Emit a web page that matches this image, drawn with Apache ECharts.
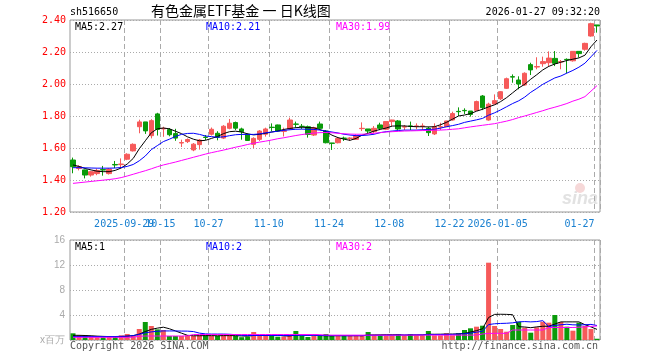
<!DOCTYPE html>
<html><head><meta charset="utf-8">
<script src="https://cdn.jsdelivr.net/npm/echarts@6/dist/echarts.min.js"></script>
<style>html,body{margin:0;padding:0;background:#fff}#c{width:660px;height:360px}</style>
</head><body><div id="c"></div>
<script>
const dates = ['2025-09-16','2025-09-17','2025-09-18','2025-09-19','2025-09-22','2025-09-23','2025-09-24','2025-09-25','2025-09-26','2025-09-29','2025-09-30',
'2025-10-09','2025-10-10','2025-10-13','2025-10-14','2025-10-15','2025-10-16','2025-10-17','2025-10-20','2025-10-21','2025-10-22','2025-10-23','2025-10-24','2025-10-27','2025-10-28','2025-10-29','2025-10-30','2025-10-31',
'2025-11-03','2025-11-04','2025-11-05','2025-11-06','2025-11-07','2025-11-10','2025-11-11','2025-11-12','2025-11-13','2025-11-14','2025-11-17','2025-11-18','2025-11-19','2025-11-20','2025-11-21','2025-11-24','2025-11-25','2025-11-26','2025-11-27','2025-11-28',
'2025-12-01','2025-12-02','2025-12-03','2025-12-04','2025-12-05','2025-12-08','2025-12-09','2025-12-10','2025-12-11','2025-12-12','2025-12-15','2025-12-16','2025-12-17','2025-12-18','2025-12-19','2025-12-22','2025-12-23','2025-12-24','2025-12-25','2025-12-26','2025-12-29','2025-12-30','2025-12-31',
'2026-01-05','2026-01-06','2026-01-07','2026-01-08','2026-01-09','2026-01-12','2026-01-13','2026-01-14','2026-01-15','2026-01-16','2026-01-19','2026-01-20','2026-01-21','2026-01-22','2026-01-23','2026-01-26','2026-01-27'];

const opens = [1.525,1.472,1.463,1.431,1.440,1.465,1.440,1.497,1.496,1.530,1.582,1.733,1.763,1.677,1.813,1.719,1.715,1.690,1.631,1.640,1.588,1.621,1.668,1.686,1.692,1.662,1.723,1.759,
1.719,1.686,1.623,1.654,1.686,1.730,1.744,1.704,1.719,1.750,1.736,1.733,1.681,1.750,1.706,1.631,1.633,1.662,1.660,1.654,
1.721,1.719,1.702,1.744,1.717,1.765,1.769,1.731,1.738,1.735,1.735,1.723,1.688,1.731,1.733,1.775,1.829,1.835,1.831,1.835,1.925,1.775,1.875,
1.908,1.973,2.046,2.025,1.994,2.121,2.106,2.127,2.133,2.160,2.138,2.154,2.145,2.204,2.217,2.300,2.369];
const closes = [1.483,1.483,1.431,1.452,1.460,1.462,1.468,1.494,1.500,1.561,1.623,1.763,1.707,1.771,1.716,1.723,1.683,1.662,1.634,1.653,1.624,1.650,1.666,1.717,1.667,1.736,1.755,1.724,
1.702,1.647,1.660,1.706,1.719,1.728,1.706,1.708,1.775,1.748,1.734,1.685,1.727,1.723,1.633,1.629,1.660,1.660,1.662,1.677,
1.723,1.706,1.723,1.723,1.765,1.775,1.719,1.733,1.735,1.738,1.738,1.696,1.733,1.733,1.769,1.815,1.827,1.833,1.810,1.890,1.852,1.874,1.896,
1.952,2.033,2.043,2.000,2.067,2.088,2.109,2.140,2.162,2.129,2.140,2.152,2.204,2.190,2.254,2.377,2.363];
const lows = [1.442,1.460,1.410,1.421,1.430,1.427,1.434,1.475,1.477,1.524,1.578,1.692,1.688,1.660,1.678,1.670,1.673,1.645,1.606,1.631,1.580,1.590,1.650,1.678,1.648,1.656,1.717,1.712,
1.652,1.644,1.600,1.644,1.671,1.704,1.702,1.672,1.712,1.727,1.719,1.665,1.675,1.719,1.629,1.588,1.629,1.644,1.644,1.650,
1.706,1.692,1.692,1.712,1.712,1.737,1.712,1.712,1.712,1.717,1.712,1.675,1.681,1.712,1.733,1.771,1.800,1.812,1.796,1.833,1.837,1.771,1.875,
1.900,1.969,2.008,1.967,1.988,2.056,2.092,2.108,2.108,2.112,2.092,2.067,2.140,2.166,2.208,2.296,2.321];
const highs = [1.540,1.492,1.465,1.456,1.470,1.488,1.473,1.519,1.535,1.567,1.629,1.777,1.763,1.780,1.820,1.733,1.725,1.720,1.652,1.660,1.631,1.656,1.681,1.728,1.705,1.743,1.781,1.765,
1.727,1.692,1.667,1.712,1.727,1.754,1.746,1.727,1.790,1.765,1.750,1.740,1.733,1.765,1.712,1.632,1.667,1.671,1.667,1.685,
1.760,1.719,1.737,1.758,1.766,1.776,1.775,1.744,1.765,1.754,1.754,1.733,1.754,1.758,1.770,1.827,1.854,1.848,1.831,1.896,1.931,1.883,1.935,
1.956,2.040,2.060,2.048,2.073,2.133,2.167,2.171,2.204,2.206,2.150,2.160,2.204,2.204,2.258,2.383,2.369];

const ma5 = [1.494,1.485,1.472,1.463,1.455,1.452,1.452,1.460,1.475,1.500,1.535,1.595,1.645,1.695,1.720,1.725,1.720,1.705,1.690,1.670,1.655,1.645,1.648,1.660,1.672,1.690,1.702,1.705,
1.700,1.688,1.682,1.686,1.692,1.700,1.706,1.716,1.722,1.727,1.730,1.728,1.726,1.715,1.703,1.680,1.665,1.655,1.648,1.660,
1.680,1.692,1.706,1.716,1.725,1.737,1.738,1.738,1.735,1.733,1.733,1.732,1.733,1.745,1.760,1.780,1.800,1.806,1.815,1.830,1.842,1.857,1.870,
1.890,1.915,1.945,1.975,1.998,2.030,2.058,2.088,2.110,2.125,2.136,2.147,2.155,2.163,2.180,2.233,2.275];
const ma10 = [1.477,1.477,1.476,1.475,1.474,1.474,1.474,1.475,1.478,1.485,1.497,1.520,1.550,1.590,1.615,1.640,1.655,1.672,1.685,1.691,1.692,1.685,1.675,1.671,1.667,1.670,1.677,1.683,
1.685,1.685,1.685,1.688,1.695,1.700,1.705,1.710,1.714,1.717,1.718,1.717,1.716,1.712,1.706,1.700,1.694,1.686,1.681,1.677,
1.678,1.681,1.686,1.696,1.702,1.706,1.709,1.712,1.712,1.712,1.714,1.716,1.717,1.724,1.733,1.740,1.748,1.760,1.768,1.776,1.785,1.805,1.820,
1.838,1.858,1.878,1.895,1.918,1.948,1.972,1.998,2.018,2.038,2.050,2.068,2.085,2.105,2.130,2.170,2.210];
const ma30 = [1.379,1.383,1.387,1.391,1.395,1.399,1.403,1.408,1.415,1.425,1.436,1.447,1.458,1.470,1.483,1.494,1.503,1.512,1.522,1.532,1.542,1.552,1.562,1.571,1.579,1.587,1.596,1.605,
1.613,1.622,1.630,1.637,1.643,1.650,1.658,1.664,1.671,1.678,1.684,1.689,1.693,1.696,1.697,1.695,1.692,1.689,1.687,1.686,
1.686,1.688,1.692,1.696,1.700,1.702,1.704,1.706,1.707,1.708,1.709,1.710,1.711,1.712,1.714,1.717,1.720,1.726,1.732,1.737,1.742,1.747,1.752,
1.760,1.768,1.778,1.790,1.800,1.811,1.822,1.833,1.845,1.855,1.866,1.878,1.893,1.905,1.921,1.955,1.990];

const volume = [1.07,0.75,0.70,0.53,0.45,0.45,0.55,0.55,0.75,0.96,0.64,1.76,2.88,2.24,1.70,1.60,0.64,0.64,0.64,0.75,0.64,0.75,0.75,0.64,0.64,0.75,0.75,0.64,
0.45,0.53,1.28,0.75,0.64,0.64,0.53,0.53,0.85,1.44,0.64,0.48,0.64,0.64,0.96,0.64,0.64,0.64,0.64,0.80,
0.64,1.28,0.75,0.75,0.64,0.75,0.96,0.64,0.96,0.75,0.75,1.44,0.75,0.75,1.07,0.75,1.07,1.60,1.87,2.13,2.29,12.37,2.24,
1.76,1.33,2.40,2.93,1.97,1.17,2.03,2.93,2.77,4.00,2.88,2.13,1.49,2.77,2.24,1.76,0.20];
const volMa5 = [0.75,0.75,0.72,0.68,0.62,0.58,0.55,0.53,0.55,0.62,0.70,0.95,1.35,1.70,1.90,2.05,1.80,1.45,1.10,0.75,0.68,0.68,0.70,0.70,0.68,0.70,0.70,0.70,
0.65,0.62,0.73,0.75,0.73,0.75,0.78,0.65,0.65,0.80,0.80,0.78,0.82,0.72,0.68,0.68,0.70,0.70,0.70,0.70,
0.68,0.80,0.82,0.83,0.85,0.85,0.85,0.78,0.80,0.82,0.82,0.92,0.92,0.93,0.95,0.95,0.98,1.05,1.27,1.50,1.79,3.60,4.10,
4.12,4.10,4.05,2.13,2.08,1.97,2.10,2.20,2.20,2.55,2.90,2.90,2.90,2.90,2.45,2.10,1.70];
const volMa10 = [0.55,0.55,0.55,0.55,0.55,0.55,0.55,0.56,0.58,0.62,0.70,0.90,1.15,1.30,1.40,1.45,1.45,1.45,1.43,1.42,1.35,1.10,0.98,0.95,0.95,0.95,0.92,0.85,
0.75,0.72,0.72,0.72,0.72,0.72,0.72,0.72,0.72,0.75,0.75,0.75,0.75,0.72,0.72,0.70,0.70,0.68,0.68,0.70,
0.70,0.75,0.75,0.76,0.76,0.76,0.80,0.80,0.82,0.82,0.82,0.88,0.88,0.88,0.90,0.90,0.95,1.00,1.10,1.25,1.40,2.47,2.60,
2.65,2.68,2.75,2.90,2.95,2.90,2.95,3.10,2.15,2.33,2.44,2.52,2.43,2.41,2.44,2.50,2.32];
const volMa30 = [0.43,0.43,0.43,0.43,0.43,0.43,0.43,0.43,0.43,0.43,0.45,0.60,0.64,0.64,0.64,0.64,0.64,0.64,0.64,0.66,0.88,0.88,0.88,0.88,0.88,0.88,0.88,0.88,
0.88,0.88,0.88,0.88,0.88,0.88,0.88,0.88,0.88,0.88,0.88,0.88,0.88,0.85,0.80,0.78,0.78,0.78,0.78,0.78,
0.78,0.78,0.78,0.78,0.78,0.78,0.78,0.78,0.78,0.78,0.78,0.78,0.78,0.78,0.78,0.78,0.78,0.78,0.78,0.80,0.96,1.05,1.07,
1.07,1.07,1.60,1.60,1.60,1.60,1.60,1.60,2.00,2.00,2.00,2.00,2.00,2.05,2.10,2.18,2.24];

const tickDates = ['2025-09-29','2025-10-15','2025-10-27','2025-11-10','2025-11-24','2025-12-08','2025-12-22','2026-01-05','2026-01-27'];
const tickLabels = ['2025-09-29','10-15','10-27','11-10','11-24','12-08','12-22','2026-01-05','01-27'];
const priceTicks = [1.20,1.40,1.60,1.80,2.00,2.20,2.40];
const volTicks = [0,4,8,12,16];

const RED = '#f65a5a', GREEN = '#0a9a0a', XBLUE = '#1a80d0';
const MONO = '"DejaVu Sans Mono", monospace';
const tickIdx = tickDates.map(d => dates.indexOf(d));
const tickSet = new Set(tickIdx);
const isTick = (i) => tickSet.has(i);
const isFirstTick = (i) => i === tickIdx[0];
const isLaterTick = (i) => tickSet.has(i) && i !== tickIdx[0];
const up = dates.map((d, i) => closes[i] >= opens[i]);

const labelFmt = (v) => {
  const k = tickDates.indexOf(v);
  if (k < 0) return '';
  return k === tickLabels.length - 1 ? '{e|' + tickLabels[k] + '}' : '{a|' + tickLabels[k] + '}';
};
const richX = {a: {padding: [0, 6, 0, 0], color: XBLUE, fontFamily: MONO, fontSize: 10},
               e: {padding: [0, 35, 0, 0], color: XBLUE, fontFamily: MONO, fontSize: 10}};

const chart = echarts.init(document.getElementById('c'), null, {renderer: 'canvas'});
const vSplit = {show: true, interval: isTick, lineStyle: {color: '#aaa', type: [5, 3], width: 1}};
const hSplit = {show: true, lineStyle: {color: '#aaa', type: [1, 2], width: 1}};
chart.setOption({
  animation: false,
  backgroundColor: '#fff',
  grid: [
    {left: 70, right: 60, top: 20, height: 192, show: true, borderColor: '#999', borderWidth: 1},
    {left: 70, right: 60, top: 240, height: 100, show: true, borderColor: '#999', borderWidth: 1}
  ],
  xAxis: [
    {type: 'category', gridIndex: 0, data: dates, boundaryGap: true, position: 'bottom',
      axisLine: {show: false}, axisTick: {show: false, interval: isTick},
      axisLabel: {interval: isLaterTick, hideOverlap: false, margin: 7, color: XBLUE, fontFamily: MONO, fontSize: 10,
        formatter: labelFmt, rich: richX},
      splitLine: vSplit},
    {type: 'category', gridIndex: 1, data: dates, boundaryGap: true,
      axisLine: {show: false}, axisTick: {show: false, interval: isTick},
      axisLabel: {show: false, interval: isTick}, splitLine: vSplit},
    {type: 'category', gridIndex: 0, data: dates, boundaryGap: true, position: 'bottom', offset: 0,
      axisLine: {show: false}, axisTick: {show: false},
      axisLabel: {interval: isFirstTick, hideOverlap: false, margin: 7, color: XBLUE, fontFamily: MONO, fontSize: 10,
        formatter: labelFmt, rich: richX},
      splitLine: {show: false}}
  ],
  yAxis: [
    {type: 'value', gridIndex: 0, min: priceTicks[0], max: priceTicks[priceTicks.length - 1], interval: 0.2,
      axisLine: {show: false}, axisTick: {show: false},
      axisLabel: {margin: 4, color: '#f00', fontFamily: MONO, fontSize: 10, formatter: v => v.toFixed(2)},
      splitLine: hSplit},
    {type: 'value', gridIndex: 1, min: volTicks[0], max: volTicks[volTicks.length - 1], interval: 4,
      axisLine: {show: false}, axisTick: {show: false},
      axisLabel: {margin: 5, color: '#aaa', fontFamily: '"Liberation Sans", sans-serif', fontSize: 10,
        formatter: v => v === 0 ? 'x百万' : String(v)},
      splitLine: hSplit}
  ],
  series: [
    {type: 'candlestick', xAxisIndex: 0, yAxisIndex: 0, barWidth: 5,
      data: dates.map((d, i) => [opens[i], closes[i], lows[i], highs[i]]),
      itemStyle: {color: RED, color0: GREEN, borderColor: RED, borderColor0: GREEN, borderWidth: 1}},
    {type: 'line', xAxisIndex: 0, yAxisIndex: 0, data: ma5, showSymbol: false, lineStyle: {color: '#000', width: 1}},
    {type: 'line', xAxisIndex: 0, yAxisIndex: 0, data: ma10, showSymbol: false, lineStyle: {color: '#00f', width: 1}},
    {type: 'line', xAxisIndex: 0, yAxisIndex: 0, data: ma30, showSymbol: false, lineStyle: {color: '#f0f', width: 1}},
    {type: 'bar', xAxisIndex: 1, yAxisIndex: 1, barWidth: 5,
      data: volume.map((v, i) => ({value: v, itemStyle: {color: up[i] ? RED : GREEN}}))},
    {type: 'line', xAxisIndex: 1, yAxisIndex: 1, data: volMa5, showSymbol: false, lineStyle: {color: '#000', width: 1}},
    {type: 'line', xAxisIndex: 1, yAxisIndex: 1, data: volMa10, showSymbol: false, lineStyle: {color: '#00f', width: 1}},
    {type: 'line', xAxisIndex: 1, yAxisIndex: 1, data: volMa30, showSymbol: false, lineStyle: {color: '#f0f', width: 1}}
  ],
  graphic: [
    {type: 'text', left: 70, top: 7, style: {text: 'sh516650', font: '10px ' + MONO, fill: '#000'}},
    {type: 'text', left: 151, top: 4, style: {text: '有色金属ETF基金 一 日K线图', font: '14px "Noto Sans CJK SC"', fill: '#000'}},
    {type: 'text', right: 60, top: 7, style: {text: '2026-01-27 09:32:20', font: '10px ' + MONO, fill: '#000'}},
    {type: 'text', left: 75, top: 22, style: {text: 'MA5:2.27', font: '10px ' + MONO, fill: '#000'}},
    {type: 'text', left: 206, top: 22, style: {text: 'MA10:2.21', font: '10px ' + MONO, fill: '#00f'}},
    {type: 'text', left: 336, top: 22, style: {text: 'MA30:1.99', font: '10px ' + MONO, fill: '#f0f'}},
    {type: 'text', left: 75, top: 242, style: {text: 'MA5:1', font: '10px ' + MONO, fill: '#000'}},
    {type: 'text', left: 206, top: 242, style: {text: 'MA10:2', font: '10px ' + MONO, fill: '#00f'}},
    {type: 'text', left: 336, top: 242, style: {text: 'MA30:2', font: '10px ' + MONO, fill: '#f0f'}},
    {type: 'text', left: 70, top: 341, style: {text: 'Copyright 2026 SINA.COM', font: '10px ' + MONO, fill: '#555'}},
    {type: 'text', right: 62, top: 341, style: {text: 'http://finance.sina.com.cn', font: '10px ' + MONO, fill: '#555'}},
    {type: 'text', left: 562, top: 190, style: {text: 'sina', font: 'italic bold 18px "Liberation Sans"', fill: '#e2e2e2'}},
    {type: 'circle', shape: {cx: 580, cy: 188, r: 5}, style: {fill: '#f6d8d8'}}
  ]
});
</script></body></html>
